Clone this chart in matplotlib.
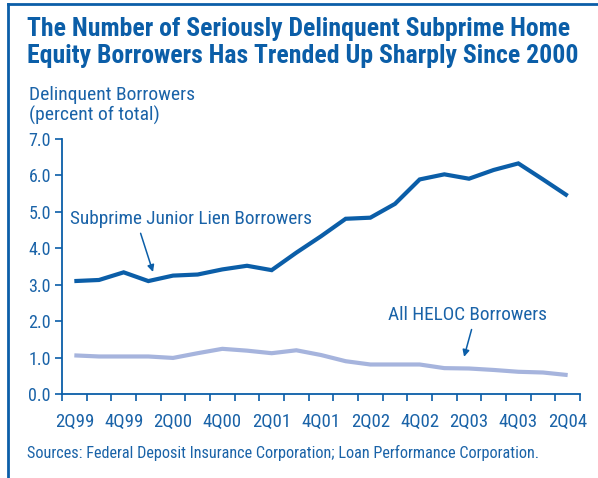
import matplotlib
matplotlib.use("Agg")
import matplotlib.pyplot as plt
import numpy as np

FONT = ['Roboto Condensed', 'DejaVu Sans']

quarters = ["2Q99", "3Q99", "4Q99", "1Q00", "2Q00", "3Q00", "4Q00", "1Q01", "2Q01", "3Q01",
            "4Q01", "1Q02", "2Q02", "3Q02", "4Q02", "1Q03", "2Q03", "3Q03", "4Q03", "1Q04", "2Q04"]
subprime_junior = [3.10, 3.13, 3.34, 3.10, 3.25, 3.28, 3.42, 3.52, 3.40, 3.88,
                   4.33, 4.81, 4.84, 5.22, 5.89, 6.03, 5.91, 6.15, 6.33, 5.89, 5.44]
all_heloc = [1.06, 1.03, 1.03, 1.03, 0.99, 1.12, 1.24, 1.19, 1.12, 1.20,
             1.07, 0.90, 0.81, 0.81, 0.81, 0.71, 0.70, 0.66, 0.61, 0.59, 0.52]
y_ticks = [0, 1, 2, 3, 4, 5, 6, 7]

DARK = '#0b5ea8'
LIGHT = '#a6b4dd'
TEXT = '#1a63a8'

plt.rcParams['font.family'] = FONT

fig = plt.figure(figsize=(5.98, 4.78), dpi=100)
ax = fig.add_axes([62/598, 1-394/478, (580-62)/598, (394-139)/478])

x = np.arange(len(quarters))
ax.plot(x, all_heloc, color=LIGHT, lw=3.0, solid_capstyle='butt', solid_joinstyle='miter')
ax.plot(x, subprime_junior, color=DARK, lw=3.0, solid_capstyle='butt', solid_joinstyle='miter')

ax.set_xlim(-0.5, len(quarters) - 0.5)
ax.set_ylim(0, 7)
ax.set_yticks(y_ticks)
ax.set_yticklabels([f"{v:.1f}" for v in y_ticks])
ax.set_xticks(x[::2])
ax.set_xticklabels(quarters[::2])
ax.set_xticks(np.arange(-0.5, len(quarters)), minor=True)
ax.tick_params(axis='x', which='major', length=0, pad=14)
ax.tick_params(axis='x', which='minor', length=5, width=1.2, color=DARK, direction='out')
ax.tick_params(axis='y', which='major', length=5, width=1.2, color=DARK, direction='out', pad=3)
for lab in ax.get_xticklabels():
    lab.set_fontsize(13.5)
    lab.set_color(TEXT)
for lab in ax.get_yticklabels():
    lab.set_fontsize(13)
    lab.set_color(TEXT)
for s in ['top', 'right']:
    ax.spines[s].set_visible(False)
for s in ['left', 'bottom']:
    ax.spines[s].set_color(DARK)
    ax.spines[s].set_linewidth(1.3)

ax.annotate("Subprime Junior Lien Borrowers", xy=(3.19, 3.35), xytext=(-0.18, 4.67),
            fontsize=13.9, color=TEXT, ha='left', va='baseline',
            arrowprops=dict(arrowstyle='-|>', color=DARK, lw=1.1, mutation_scale=10,
                            shrinkA=2, shrinkB=0, relpos=(0.285, 0)))
ax.annotate("All HELOC Borrowers", xy=(15.8, 1.02), xytext=(12.71, 2.03),
            fontsize=13.9, color=TEXT, ha='left', va='baseline',
            arrowprops=dict(arrowstyle='-|>', color=DARK, lw=1.1, mutation_scale=10,
                            shrinkA=2, shrinkB=0, relpos=(0.536, 0)))

fig.text(27/598, 1-36/478, "The Number of Seriously Delinquent Subprime Home",
         fontsize=18.5, fontweight='bold', color=DARK, va='baseline')
fig.text(27/598, 1-63/478, "Equity Borrowers Has Trended Up Sharply Since 2000",
         fontsize=18.5, fontweight='bold', color=DARK, va='baseline')
fig.text(29/598, 1-100/478, "Delinquent Borrowers", fontsize=14, color=TEXT, va='baseline')
fig.text(29/598, 1-121/478, "(percent of total)", fontsize=14, color=TEXT, va='baseline')
fig.text(27/598, 1-458/478, "Sources: Federal Deposit Insurance Corporation; Loan Performance Corporation.",
         fontsize=11.7, color=TEXT, va='baseline')

# frame lines (top and left)
fig.add_artist(plt.Line2D([8/598, 1], [1-3.5/478, 1-3.5/478], color=DARK, lw=2.0, transform=fig.transFigure))
fig.add_artist(plt.Line2D([8/598, 8/598], [0, 1-3.5/478], color=DARK, lw=2.0, transform=fig.transFigure))

fig.savefig("out.png", dpi=100)
